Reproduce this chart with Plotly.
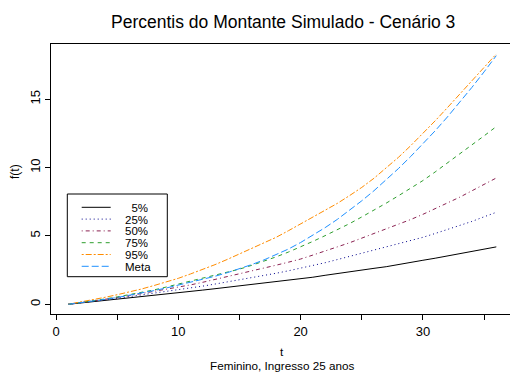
import plotly.graph_objects as go

t = list(range(1, 37))

p05 = [0, 0.09, 0.18, 0.27, 0.37, 0.46, 0.56, 0.65, 0.75, 0.85, 0.94, 1.04, 1.14, 1.24, 1.34, 1.44, 1.54, 1.64,
       1.74, 1.85, 1.98, 2.12, 2.26, 2.39, 2.51, 2.63, 2.75, 2.89, 3.05, 3.22, 3.37, 3.53, 3.68, 3.86, 4.04, 4.20]
p25 = [0, 0.10, 0.20, 0.32, 0.44, 0.56, 0.68, 0.80, 0.92, 1.05, 1.19, 1.33, 1.48, 1.63, 1.78, 1.94, 2.10, 2.27,
       2.45, 2.63, 2.82, 3.04, 3.27, 3.50, 3.73, 3.96, 4.20, 4.43, 4.66, 4.90, 5.18, 5.47, 5.75, 6.06, 6.40, 6.73]
p50 = [0, 0.11, 0.22, 0.35, 0.49, 0.63, 0.78, 0.93, 1.08, 1.24, 1.42, 1.61, 1.81, 2.01, 2.22, 2.43, 2.64, 2.86,
       3.08, 3.31, 3.60, 3.92, 4.20, 4.50, 4.83, 5.17, 5.50, 5.85, 6.20, 6.58, 6.98, 7.40, 7.83, 8.30, 8.77, 9.24]
p75 = [0, 0.12, 0.25, 0.39, 0.54, 0.70, 0.87, 1.05, 1.26, 1.48, 1.69, 1.90, 2.11, 2.33, 2.57, 2.85, 3.15, 3.47,
       3.82, 4.20, 4.60, 5.02, 5.45, 5.90, 6.39, 6.88, 7.40, 7.94, 8.49, 9.05, 9.68, 10.33, 11.00, 11.65, 12.32, 13.00]
p95 = [0, 0.16, 0.33, 0.51, 0.70, 0.90, 1.12, 1.37, 1.63, 1.90, 2.22, 2.55, 2.90, 3.28, 3.68, 4.08, 4.48, 4.90,
       5.38, 5.88, 6.36, 6.86, 7.38, 7.95, 8.55, 9.22, 9.95, 10.75, 11.60, 12.50, 13.42, 14.38, 15.35, 16.33, 17.32, 18.31]
meta = [0, 0.11, 0.23, 0.36, 0.50, 0.655, 0.82, 1.00, 1.19, 1.40, 1.60, 1.815, 2.05, 2.31, 2.595, 2.905, 3.245, 3.615,
        4.04, 4.52, 5.04, 5.605, 6.21, 6.87, 7.57, 8.31, 9.10, 9.93, 10.81, 11.73, 12.69, 13.70, 14.76, 15.86, 17.00, 18.19]

labels = ["\u20075%", "25%", "50%", "75%", "95%", "Meta"]
series = [p05, p25, p50, p75, p95, meta]
colors = ["#000000", "#00008B", "#8B2252", "#2E9E2E", "#FF8C00", "#1E90FF"]
dashes = ["solid", "1px,3px", "1px,3px,4px,3px", "4px,4px", "2px,2px,6px,2px", "7px,3px"]

x_ticks = [0, 5, 10, 15, 20, 25, 30, 35]
x_ticktext = ["0", "", "10", "", "20", "", "30", ""]
y_ticks = [0, 5, 10, 15]

W, H = 510, 374
L, R, T, B = 51, 0, 44, 60

def px(x):
    return (x - L) / (W - L - R)

def py(y):
    return (H - B - y) / (H - T - B)

fig = go.Figure()
for lab, s, c, d in zip(labels, series, colors, dashes):
    fig.add_trace(go.Scatter(x=t, y=s, mode="lines", name=lab, showlegend=False,
                             line=dict(color=c, width=1, dash=d)))

font = "Liberation Sans, Arial, sans-serif"

# manual legend
shapes = [dict(type="rect", xref="paper", yref="paper", x0=px(67.3), x1=px(167.3), y0=py(276.7), y1=py(194),
               line=dict(color="black", width=1), fillcolor="white", layer="above")]
annotations = []
for i, (lab, c, d) in enumerate(zip(labels, colors, dashes)):
    yy = 207.3 + 11.8 * i
    shapes.append(dict(type="line", xref="paper", yref="paper", x0=px(81.7), x1=px(110.7), y0=py(yy), y1=py(yy),
                       line=dict(color=c, width=1, dash=d), layer="above"))
    annotations.append(dict(text=lab, xref="paper", yref="paper", x=px(124.3), y=py(yy), xanchor="left",
                            yanchor="middle", showarrow=False, height=11, borderpad=0,
                            font=dict(size=11.5, color="black", family=font)))

annotations.append(dict(text="Percentis do Montante Simulado - Cenário 3", xref="paper", yref="paper",
                        x=px(283), y=py(22), xanchor="center", yanchor="middle", showarrow=False,
                        font=dict(size=17.5, color="black", family=font)))
annotations.append(dict(text="t", xref="paper", yref="paper", x=px(282), y=py(351), xanchor="center",
                        yanchor="middle", showarrow=False, borderpad=0,
                        font=dict(size=11.7, color="black", family=font)))
annotations.append(dict(text="Feminino, Ingresso 25 anos", xref="paper", yref="paper", x=px(282), y=py(365.5),
                        xanchor="center", yanchor="middle", showarrow=False, borderpad=0,
                        font=dict(size=11.7, color="black", family=font)))
annotations.append(dict(text="f(t)", xref="paper", yref="paper", x=px(15), y=py(172), xanchor="center",
                        yanchor="middle", textangle=-90, showarrow=False,
                        font=dict(size=12, color="black", family=font)))

fig.update_layout(
    width=W, height=H, margin=dict(l=L, r=R, t=T, b=B),
    paper_bgcolor="white", plot_bgcolor="white",
    font=dict(family=font, size=12, color="black"),
    shapes=shapes, annotations=annotations,
    xaxis=dict(range=[-0.41, 37.12], tickvals=x_ticks, ticktext=x_ticktext, ticks="outside", ticklen=5,
               tickcolor="black", showline=True, linecolor="black", linewidth=1, mirror=True,
               showgrid=False, zeroline=False, tickfont=dict(size=13)),
    yaxis=dict(range=[-0.71, 19.04], tickvals=y_ticks, ticks="outside", ticklen=5, tickcolor="black",
               showline=True, linecolor="black", linewidth=1, mirror=False, showgrid=False,
               zeroline=False, tickangle=-90, tickfont=dict(size=13)),
)

fig.write_html("out.html")
